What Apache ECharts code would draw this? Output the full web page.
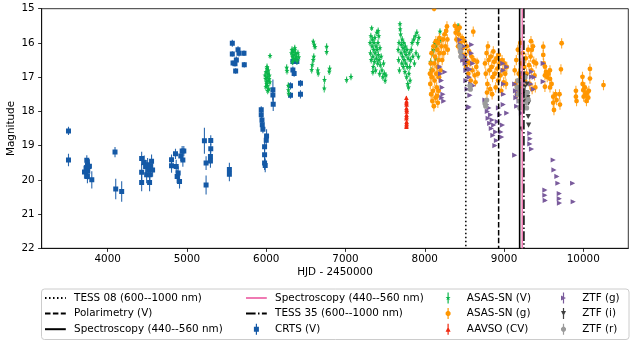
<!DOCTYPE html>
<html><head><meta charset="utf-8">
<script src="https://cdn.jsdelivr.net/npm/echarts@6/dist/echarts.min.js"></script>
<style>html,body{margin:0;padding:0;background:#fff}#c{width:630px;height:347px}</style>
</head><body><div id="c"></div><script>
// ---------- data ----------
const xTickValues = [4000, 5000, 6000, 7000, 8000, 9000, 10000];
const markerNames = ['TESS 08 (600--1000 nm)', 'Polarimetry (V)', 'Spectroscopy (440--560 nm)', 'Spectroscopy (440--560 nm) ', 'TESS 35 (600--1000 nm)'];
const markerEpochs = [8518, 8932, 9197, 9230, 9251];

// [HJD-2450000, magnitude, error]
const crtsV = [[3505,18.57,0.12],[3505,19.42,0.18],[3707,19.77,0.2],[3727,19.66,0.2],[3736,19.43,0.15],[3744,19.56,0.2],[3757,19.61,0.2],[3748,19.75,0.25],[3769,19.6,0.2],[3799,20.0,0.25],[3744,19.9,0.2],[4092,19.19,0.15],[4101,20.27,0.3],[4176,20.34,0.3],[4428,19.38,0.2],[4428,19.78,0.25],[4428,20.08,0.25],[4461,19.49,0.2],[4478,19.61,0.2],[4491,19.85,0.25],[4503,19.56,0.2],[4516,19.71,0.2],[4528,20.08,0.25],[4541,19.61,0.2],[4553,19.46,0.2],[4566,19.71,0.2],[4532,19.85,0.25],[4805,19.41,0.15],[4805,19.59,0.2],[4855,19.24,0.15],[4864,19.61,0.2],[4876,19.9,0.2],[4889,19.8,0.2],[4906,20.05,0.2],[4922,19.3,0.15],[4939,19.16,0.15],[4948,19.42,0.2],[4960,19.16,0.15],[5220,18.86,0.38],[5241,19.51,0.2],[5241,20.15,0.28],[5300,18.85,0.15],[5300,19.09,0.15],[5296,19.32,0.2],[5296,19.45,0.2],[5535,19.7,0.2],[5535,19.84,0.2],[5572,16.01,0.1],[5572,16.32,0.08],[5581,16.59,0.08],[5606,16.61,0.08],[5614,16.82,0.08],[5623,16.5,0.1],[5644,16.2,0.1],[5656,16.3,0.1],[5719,16.3,0.08],[5723,16.64,0.08],[5937,17.95,0.1],[5937,18.1,0.1],[5946,18.25,0.1],[5950,18.39,0.1],[5958,18.52,0.12],[5979,19.03,0.15],[5979,19.27,0.2],[5979,19.51,0.2],[5987,19.58,0.2],[6004,18.72,0.2],[6000,18.84,0.2],[6084,17.37,0.3],[6084,17.52,0.2],[6088,17.79,0.2],[6306,17.25,0.1],[6306,17.53,0.1],[6336,16.54,0.1],[6336,16.79,0.1],[6352,16.89,0.1],[6386,16.54,0.1],[6432,17.18,0.1],[6432,17.5,0.12]];

const asassnV = [[5985,16.95,0.1],[5992,17.05,0.1],[5998,16.85,0.1],[6003,17.15,0.1],[6008,16.75,0.1],[6012,17.0,0.1],[6015,17.25,0.1],[6020,16.9,0.1],[6024,17.1,0.1],[6028,16.8,0.1],[6032,17.35,0.1],[6036,17.05,0.1],[6040,16.95,0.1],[6018,17.4,0.1],[6005,17.2,0.1],[5995,17.28,0.1],[6045,17.15,0.1],[6010,16.7,0.1],[6048,16.38,0.08],
[6258,16.72,0.1],[6262,16.82,0.1],[6278,17.25,0.1],[6280,17.38,0.1],[6283,17.48,0.1],[6318,16.3,0.1],[6325,16.2,0.1],[6330,16.4,0.1],[6338,16.25,0.1],[6345,16.48,0.1],[6350,16.35,0.1],[6358,16.2,0.1],[6365,16.45,0.1],[6372,16.3,0.1],[6380,16.4,0.1],[6390,16.52,0.1],[6400,16.3,0.1],[6410,16.42,0.1],[6330,16.55,0.1],[6360,16.15,0.1],
[6593,15.96,0.08],[6605,16.05,0.08],[6615,16.12,0.08],[6593,16.5,0.1],[6600,16.4,0.1],[6573,16.79,0.1],[6580,16.65,0.1],[6656,16.89,0.1],[6650,16.8,0.1],[6762,16.11,0.1],[6762,16.26,0.1],[6735,17.08,0.12],[6732,17.33,0.12],[6795,16.84,0.1],[6800,16.75,0.1],[7014,17.08,0.1],[7069,16.99,0.1],
[7330,15.57,0.08],[7310,16.0,0.1],[7315,16.3,0.1],[7320,15.8,0.1],[7325,16.5,0.1],[7335,16.1,0.1],[7340,15.9,0.1],[7345,16.4,0.1],[7350,16.7,0.1],[7355,16.2,0.1],[7360,16.0,0.1],[7365,16.55,0.1],[7370,15.85,0.1],[7375,16.3,0.1],[7380,16.8,0.1],[7385,16.1,0.1],[7390,16.45,0.1],[7395,15.7,0.1],[7400,16.2,0.1],[7405,16.6,0.1],[7410,16.0,0.1],[7415,16.35,0.1],[7420,15.8,0.1],[7425,16.5,0.1],[7430,16.9,0.1],[7435,16.15,0.1],[7440,16.65,0.1],[7450,16.4,0.1],[7460,16.8,0.1],[7470,17.0,0.1],[7480,16.6,0.1],[7490,16.9,0.1],[7500,17.1,0.1],[7510,16.95,0.1],[7412,15.65,0.1],[7345,16.85,0.1],
[7687,15.45,0.08],[7690,15.6,0.08],[7695,15.75,0.1],[7665,16.2,0.1],[7670,16.5,0.1],[7675,16.0,0.1],[7680,16.8,0.1],[7700,16.3,0.1],[7705,16.05,0.1],[7710,16.6,0.1],[7715,15.9,0.1],[7720,16.4,0.1],[7725,16.15,0.1],[7730,16.7,0.1],[7735,16.0,0.1],[7740,16.5,0.1],[7745,16.25,0.1],[7750,16.85,0.1],[7755,16.1,0.1],[7760,16.6,0.1],[7765,16.35,0.1],[7770,17.0,0.1],[7775,16.2,0.1],[7780,16.7,0.1],[7785,17.2,0.1],[7790,16.45,0.1],[7795,17.3,0.1],[7800,16.9,0.1],[7805,16.3,0.1],[7810,16.7,0.1],[7815,17.1,0.1],[7820,16.5,0.1],[7830,16.2,0.1],[7840,16.0,0.1],[7850,16.4,0.1],[7860,15.9,0.1],[7870,16.6,0.1],[7880,15.8,0.1],[7890,16.3,0.1],[7900,15.7,0.1],[7910,16.0,0.1],[7920,16.4,0.1],[7925,15.85,0.1],
[8074,16.55,0.1],[8080,16.8,0.1],[8095,16.3,0.1],[8110,16.2,0.1],[8125,16.0,0.1],[8135,16.45,0.1],[8141,16.1,0.1],[8160,15.95,0.1],[8192,15.67,0.1],[8200,15.9,0.1],[8420,15.5,0.08],[8425,15.62,0.08],[8430,15.55,0.08]];

const asassnG = [[8118,15.0,0.08],
[8065,16.9,0.15],[8070,17.2,0.15],[8075,16.6,0.15],[8080,17.5,0.15],[8085,16.3,0.15],[8090,17.0,0.15],[8095,17.7,0.15],[8100,16.8,0.15],[8105,17.4,0.15],[8110,16.1,0.15],[8115,17.85,0.15],[8120,16.6,0.15],[8125,17.1,0.15],[8130,16.4,0.15],[8135,17.6,0.15],[8140,15.95,0.15],[8145,16.9,0.15],[8150,17.3,0.15],[8155,16.2,0.15],[8160,16.7,0.15],[8165,17.75,0.15],[8170,16.0,0.15],[8175,16.5,0.15],[8180,17.0,0.15],[8185,15.85,0.15],[8190,16.3,0.15],[8200,16.8,0.15],[8210,16.1,0.15],[8220,16.5,0.15],[8230,15.9,0.15],[8240,16.3,0.15],[8250,15.75,0.15],[8260,16.1,0.15],[8270,15.65,0.15],[8280,15.52,0.15],[8285,15.9,0.15],[8290,16.2,0.15],[8175,17.4,0.15],[8155,17.55,0.15],
[8380,15.5,0.12],[8390,15.7,0.12],[8400,15.9,0.12],[8410,15.6,0.12],[8420,16.1,0.12],[8430,15.75,0.12],[8440,15.55,0.12],[8450,16.0,0.12],[8460,16.3,0.12],[8470,15.85,0.12],[8480,16.15,0.12],[8490,16.5,0.12],[8500,15.95,0.12],[8510,16.35,0.12],[8520,16.7,0.12],[8530,16.1,0.12],[8540,16.55,0.12],[8550,16.9,0.12],[8560,16.25,0.12],[8570,16.6,0.12],[8580,17.1,0.12],[8590,16.4,0.12],[8600,16.8,0.12],[8612,15.67,0.15],[8620,16.5,0.12],[8630,16.95,0.12],[8640,17.15,0.12],[8650,16.7,0.12],[8660,16.55,0.12],[8670,16.9,0.12],
[8760,16.6,0.15],[8770,16.9,0.15],[8780,16.3,0.15],[8790,17.2,0.15],[8797,16.1,0.15],[8805,16.5,0.15],[8815,16.8,0.15],[8825,17.35,0.15],[8835,16.4,0.15],[8845,16.7,0.15],[8855,17.0,0.15],[8865,16.25,0.15],[8875,16.55,0.15],[8885,16.9,0.15],[8895,17.3,0.15],[8905,16.45,0.15],[8915,16.75,0.15],[8925,17.1,0.15],[8935,16.35,0.15],[8945,16.6,0.15],[8955,16.95,0.15],[8965,17.4,0.15],[8975,16.5,0.15],[8985,16.8,0.15],[8995,17.15,0.15],[9005,16.6,0.15],[9015,16.9,0.15],[9025,17.2,0.15],[9035,16.7,0.15],[8785,17.45,0.15],[8850,17.5,0.15],
[9135,16.8,0.15],[9145,17.2,0.15],[9155,16.5,0.15],[9165,17.5,0.15],[9175,16.2,0.15],[9185,16.9,0.15],[9195,17.3,0.15],[9205,16.0,0.15],[9215,16.6,0.15],[9225,17.0,0.15],[9235,16.3,0.15],[9245,17.4,0.15],[9255,16.7,0.15],[9265,17.1,0.15],[9275,16.45,0.15],[9285,16.9,0.15],[9295,17.6,0.15],[9305,16.2,0.15],[9315,16.65,0.15],[9325,17.2,0.15],[9335,16.4,0.15],[9345,16.8,0.15],[9355,17.35,0.15],[9365,16.1,0.15],[9375,16.55,0.15],[9385,16.95,0.15],[9395,17.3,0.15],[9405,16.6,0.15],[9340,15.95,0.15],[9350,16.2,0.15],
[9495,16.11,0.15],[9495,16.35,0.15],[9500,16.6,0.15],[9516,16.69,0.15],[9516,16.95,0.15],[9516,17.28,0.15],[9530,16.85,0.15],[9545,17.0,0.15],[9560,16.9,0.15],[9580,16.8,0.15],[9580,17.05,0.15],[9580,17.3,0.15],[9600,17.2,0.15],[9621,17.57,0.15],[9621,17.75,0.15],[9630,17.96,0.15],[9650,17.5,0.15],[9663,17.67,0.15],[9700,17.5,0.15],[9706,17.8,0.15],[9718,16.77,0.15],[9727,16.01,0.15],
[9907,17.4,0.15],[9907,17.57,0.15],[9915,17.7,0.15],[9990,16.99,0.15],[9992,17.2,0.15],[10000,17.38,0.15],[10005,17.57,0.15],[10020,17.3,0.15],[10030,17.5,0.15],[10040,17.7,0.15],[10050,17.45,0.15],[10063,17.6,0.15],[10070,17.4,0.15],[10084,16.76,0.15],[10084,17.04,0.15],[10255,17.23,0.15]];

const aavsoCV = [[7768,17.6,0.05],[7770,17.7,0.05],[7771,17.8,0.05],[7769,17.9,0.05],[7772,18.0,0.05],[7770,18.1,0.05],[7768,18.2,0.05],[7771,18.3,0.05],[7770,18.4,0.05],[7769,17.75,0.05],[7772,17.95,0.05],[7770,18.15,0.05],[7771,18.35,0.05],[7769,18.45,0.05]];

const ztfG = [[8192,16.7,0.03],[8200,16.9,0.03],[8210,17.1,0.03],[8220,17.3,0.03],[8230,17.5,0.03],[8240,17.7,0.03],[8255,16.85,0.03],[8215,17.6,0.03],
[8444,15.91,0.03],[8450,16.05,0.03],[8460,16.2,0.03],[8470,16.35,0.03],[8480,16.5,0.03],[8490,16.1,0.03],[8500,16.4,0.03],[8510,16.6,0.03],[8520,16.8,0.03],[8530,16.5,0.03],[8545,16.75,0.03],[8560,17.0,0.03],[8570,16.77,0.03],[8580,17.2,0.03],[8592,16.05,0.03],[8612,17.25,0.03],[8570,17.53,0.03],[8560,17.87,0.03],[8548,17.9,0.03],[8590,16.3,0.03],[8605,16.6,0.03],[8520,17.1,0.03],[8535,17.35,0.03],
[8760,17.67,0.03],[8780,17.8,0.03],[8790,18.0,0.03],[8800,18.2,0.03],[8810,17.9,0.03],[8820,18.35,0.03],[8830,18.1,0.03],[8840,18.5,0.03],[8850,18.25,0.03],[8860,18.7,0.03],[8870,18.4,0.03],[8885,19.0,0.03],[8895,18.6,0.03],[8905,18.85,0.03],[8915,18.3,0.03],[8930,17.9,0.03],[8945,18.1,0.03],[8960,18.6,0.03],[8970,18.75,0.03],[8980,18.4,0.03],[8990,17.8,0.03],[8990,16.8,0.03],[8995,17.2,0.03],[8995,17.5,0.03],[8985,16.6,0.03],[9035,16.7,0.03],[9035,18.05,0.03],
[9135,17.2,0.03],[9145,17.4,0.03],[9150,17.6,0.03],[9160,17.85,0.03],[9170,17.5,0.03],[9180,17.3,0.03],[9190,17.7,0.03],[9200,17.45,0.03],[9210,17.9,0.03],[9220,18.05,0.03],[9230,17.6,0.03],[9135,19.28,0.03],[9245,16.9,0.03],[9255,17.15,0.03],
[9347,16.84,0.03],[9347,16.99,0.03],[9340,17.2,0.03],[9370,17.35,0.03],[9380,17.0,0.03],[9495,16.6,0.03],[9495,17.13,0.03],[9326,18.64,0.03],[9330,18.8,0.03],[9326,18.95,0.03],[9347,19.1,0.03],[9621,19.42,0.03],[9630,19.71,0.03],[9667,19.9,0.03],[9680,20.1,0.03],[9516,20.3,0.03],[9516,20.45,0.03],[9520,20.6,0.03],[9697,20.4,0.03],[9697,20.55,0.03],[9700,20.68,0.03],[9866,20.1,0.03],[9873,20.64,0.03]];

const ztfI = [[9240,16.9,0.03],[9250,17.1,0.03],[9260,17.3,0.03],[9270,17.0,0.03],[9280,17.45,0.03],[9290,17.2,0.03],[9300,17.6,0.03],[9310,17.75,0.03],[9305,18.15,0.03],[9310,18.4,0.03],[9222,18.52,0.03],[9235,17.5,0.03],[9260,17.7,0.03]];

const ztfR = [[9165,17.3,0.03],[9175,17.1,0.03],[9185,17.5,0.03],[9195,17.7,0.03],[9205,17.4,0.03],[9215,17.2,0.03],[9225,17.6,0.03],[9235,17.8,0.03],[9245,17.35,0.03],[9255,17.55,0.03],[9265,17.0,0.03],[9275,17.75,0.03],[9285,17.9,0.03],[9295,17.45,0.03],[9305,17.65,0.03],[9200,17.9,0.03],
[8444,16.1,0.03],[8450,16.25,0.03],[8455,16.4,0.03],[8570,17.25,0.03],[8575,17.35,0.03],[8781,17.67,0.03],[8760,17.77,0.03],[8770,17.85,0.03]];

// ---------- styling ----------
const FONT = 'DejaVu Sans';
const FS = 10.4;

function markerShape(kind, cx, cy, s, color) {
  const h = s / 2;
  const st = { fill: color };
  if (kind === 'square') return { type: 'rect', shape: { x: cx - h, y: cy - h, width: s, height: s }, style: st };
  if (kind === 'circle') return { type: 'circle', shape: { cx: cx, cy: cy, r: h }, style: st };
  if (kind === 'triRight') return { type: 'polygon', shape: { points: [[cx + h, cy], [cx - h, cy - h], [cx - h, cy + h]] }, style: st };
  if (kind === 'triDown') return { type: 'polygon', shape: { points: [[cx, cy + h], [cx - h, cy - h], [cx + h, cy - h]] }, style: st };
  if (kind === 'triUp') return { type: 'polygon', shape: { points: [[cx, cy - h], [cx + h, cy + h], [cx - h, cy + h]] }, style: st };
  // star
  const pts = [];
  for (let i = 0; i < 10; i++) {
    const r = i % 2 === 0 ? h * 1.15 : h * 0.5;
    const a = -Math.PI / 2 + i * Math.PI / 5;
    pts.push([cx + r * Math.cos(a), cy + r * Math.sin(a)]);
  }
  return { type: 'polygon', shape: { points: pts }, style: st };
}

function errSeries(name, data, color, kind, size, barOpacity) {
  return {
    type: 'custom', name: name, data: data, clip: true,
    itemStyle: { color: color }, encode: { x: 0, y: 1 }, silent: true,
    renderItem: function (params, api) {
      const x = api.value(0), y = api.value(1), e = api.value(2);
      const p = api.coord([x, y]);
      const a = api.coord([x, y - e]);
      const b = api.coord([x, y + e]);
      return {
        type: 'group',
        children: [
          { type: 'line', shape: { x1: p[0], y1: a[1], x2: p[0], y2: b[1] }, style: { stroke: color, lineWidth: 1.1, opacity: barOpacity } },
          markerShape(kind, p[0], p[1], size, color)
        ]
      };
    }
  };
}

const lineStyles = [
  { color: '#000', width: 1.5, type: [1.5, 2.5] },
  { color: '#000', width: 1.5, type: [5.5, 2.4] },
  { color: '#000', width: 1.6, type: 'solid' },
  { color: '#ef7ab3', width: 1.6, type: 'solid' },
  { color: '#000', width: 1.5, type: [9.6, 2.4, 1.5, 2.4] }
];

const vSeries = markerNames.map(function (n, i) {
  return {
    type: 'line', name: n, data: [[markerEpochs[i], 15], [markerEpochs[i], 22]],
    symbol: 'none', color: lineStyles[i].color, itemStyle: { color: lineStyles[i].color },
    lineStyle: lineStyles[i], z: 5, silent: true, clip: true
  };
});

const colors = { crts: '#1459a6', asV: '#0ab54a', asG: '#ff9600', aav: '#f0280f', zg: '#7a5b9c', zi: '#404040', zr: '#9b9b9b' };

const series = [
  errSeries('CRTS (V)', crtsV, colors.crts, 'square', 5, 0.9),
  errSeries('ASAS-SN (V)', asassnV, colors.asV, 'star', 4.6, 0.8),
  errSeries('ASAS-SN (g)', asassnG, colors.asG, 'circle', 4.8, 0.8),
  errSeries('AAVSO (CV)', aavsoCV, colors.aav, 'triUp', 4.6, 0.9),
  errSeries('ZTF (g)', ztfG, colors.zg, 'triRight', 5.2, 0.8),
  errSeries('ZTF (i)', ztfI, colors.zi, 'triDown', 5.2, 0.8),
  errSeries('ZTF (r)', ztfR, colors.zr, 'circle', 5.2, 0.8)
].concat(vSeries);

const BAR = 'M1.9,0H3.1V11H1.9Z ';
const icons = {
  square: 'path://' + BAR + 'M0,3H5V8H0Z',
  circle: 'path://' + BAR + 'M1.5,3H3.5L5,4.5V6.5L3.5,8H1.5L0,6.5V4.5Z',
  star: 'path://' + BAR + 'M2.5,2.6L3.1,4.6L5,4.6L3.5,5.8L4.1,7.8L2.5,6.6L0.9,7.8L1.5,5.8L0,4.6L1.9,4.6Z',
  triUp: 'path://' + BAR + 'M2.5,3L5,8H0Z',
  triRight: 'path://' + BAR + 'M5,5.5L0,8V3Z',
  triDown: 'path://' + BAR + 'M2.5,8L0,3H5Z'
};

function lineItem(n) { return { name: n, itemStyle: { opacity: 0 } }; }

function legendCol(left, items) {
  return {
    orient: 'vertical', left: left, top: 292.5, padding: 0,
    itemWidth: 20.8, itemHeight: 11, itemGap: 4.6, selectedMode: false,
    textStyle: { fontFamily: FONT, fontSize: FS, color: '#000', lineHeight: 11, padding: [0, 0, 0, 3.3] },
    data: items
  };
}

const option = {
  animation: false,
  backgroundColor: '#fff',
  grid: { left: 41.7, right: 1.7, top: 8.7, bottom: 98.7, show: true, borderColor: '#000', borderWidth: 0.8, containLabel: false, outerBoundsMode: 'none' },
  xAxis: {
    type: 'value', min: 3167, max: 10568,
    name: 'HJD - 2450000', nameLocation: 'middle', nameGap: 19, nameMoveOverlap: false,
    nameTextStyle: { fontFamily: FONT, fontSize: FS, color: '#000' },
    axisLine: { show: true, lineStyle: { color: '#000', width: 0.8 } },
    axisTick: { show: true, length: 3.6, lineStyle: { color: '#000', width: 0.8 }, customValues: xTickValues },
    axisLabel: { color: '#000', fontFamily: FONT, fontSize: FS, margin: 6, customValues: xTickValues, formatter: function (v) { return String(v); } },
    splitLine: { show: false }
  },
  yAxis: {
    type: 'value', inverse: true, min: 15, max: 22, interval: 1,
    name: 'Magnitude', nameLocation: 'middle', nameGap: 25, nameMoveOverlap: false,
    nameTextStyle: { fontFamily: FONT, fontSize: FS, color: '#000' },
    axisLine: { show: true, lineStyle: { color: '#000', width: 0.8 } },
    axisTick: { show: true, length: 3.6, lineStyle: { color: '#000', width: 0.8 } },
    axisLabel: { color: '#000', fontFamily: FONT, fontSize: FS, margin: 7, formatter: function (v) { return String(v); } },
    splitLine: { show: false }
  },
  graphic: [{
    type: 'rect', left: 41, top: 288.5, z: -1,
    shape: { width: 587.5, height: 50.5, r: 3 },
    style: { fill: '#fff', stroke: '#cccccc', lineWidth: 1 }
  }],
  legend: [
    legendCol(44, [lineItem(markerNames[0]), lineItem(markerNames[1]), lineItem(markerNames[2])]),
    legendCol(245, [lineItem(markerNames[3]), lineItem(markerNames[4]), { name: 'CRTS (V)', icon: icons.square }]),
    legendCol(445.6, [{ name: 'ASAS-SN (V)', icon: icons.star }, { name: 'ASAS-SN (g)', icon: icons.circle }, { name: 'AAVSO (CV)', icon: icons.triUp }]),
    legendCol(561, [{ name: 'ZTF (g)', icon: icons.triRight }, { name: 'ZTF (i)', icon: icons.triDown }, { name: 'ZTF (r)', icon: icons.circle }])
  ],
  series: series
};

const chart = echarts.init(document.getElementById('c'), null, { renderer: 'canvas' });
chart.setOption(option);
</script></body></html>
